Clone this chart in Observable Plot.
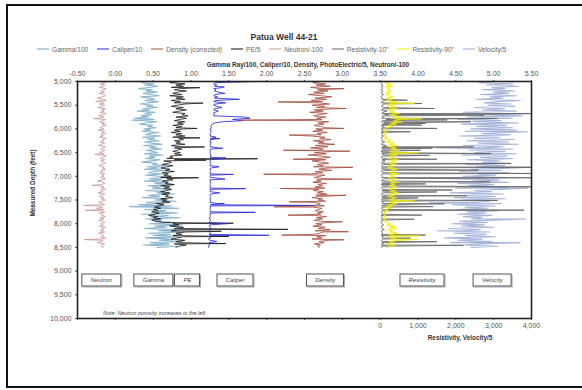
<!DOCTYPE html>
<html><head><meta charset="utf-8">
<script src="https://cdn.jsdelivr.net/npm/d3@7"></script>
<script src="https://cdn.jsdelivr.net/npm/@observablehq/plot@0.6"></script>
<style>
html,body{margin:0;padding:0;background:#fff;width:582px;height:390px;overflow:hidden;font-family:"Liberation Sans",Arial,sans-serif;position:relative;}
#frame{position:absolute;left:6px;top:4px;width:720px;height:384px;border:2px solid #111;box-sizing:border-box;}
#chart{position:absolute;left:0;top:0;}
.t{position:absolute;white-space:nowrap;color:#333;}
#title{left:284px;top:37px;transform:translate(-50%,-50%);font-weight:bold;font-size:8.5px;}
#legend{position:absolute;left:37px;top:49px;transform:translateY(-50%);display:flex;gap:9px;font-size:6.6px;color:#666;white-space:nowrap;}
#legend .it{display:flex;align-items:center;}
#legend .ln{display:inline-block;width:12px;height:0;border-top:1px solid;margin-right:3px;}
#xtop{left:308px;top:64px;transform:translate(-50%,-50%);font-weight:bold;font-size:6.4px;}
#xbot{left:460px;top:337px;transform:translate(-50%,-50%);font-weight:bold;font-size:6.4px;}
#ylab{left:32px;top:183px;transform:translate(-50%,-50%) rotate(-90deg);font-weight:bold;font-size:6.4px;}
#note{left:103px;top:313px;transform:translateY(-50%);font-style:italic;font-size:5.4px;color:#444;}
.box{position:absolute;border:1px solid #555;box-shadow:1px 1px 0 #aaa;font-style:italic;font-size:6px;color:#444;height:11px;line-height:11px;padding:0 8px;transform:translate(-50%,-50%);white-space:nowrap;background:#fff;}
</style></head><body>
<div id="frame"></div>
<div id="chart"></div>
<div class="t" id="title">Patua Well 44-21</div>
<div id="legend"></div>
<div class="t" id="xtop">Gamma Ray/100, Caliper/10, Density, PhotoElectric/5, Neutron/-100</div>
<div class="t" id="xbot">Resistivity, Velocity/5</div>
<div class="t" id="ylab">Measured Depth (feet)</div>
<div class="t" id="note">Note: Neutron porosity increases to the left</div>
<script>
// ---------- data ----------
const depth = [
5000,5025,5050,5075,5100,5125,5150,5175,5200,5225,
5250,5275,5300,5325,5350,5375,5400,5425,5450,5475,
5500,5525,5550,5575,5600,5625,5650,5675,5700,5725,
5750,5775,5800,5825,5850,5875,5900,5925,5950,5975,
6000,6025,6050,6075,6100,6125,6150,6175,6200,6225,
6250,6275,6300,6325,6350,6375,6400,6425,6450,6475,
6500,6525,6550,6575,6600,6625,6650,6675,6700,6725,
6750,6775,6800,6825,6850,6875,6900,6925,6950,6975,
7000,7025,7050,7075,7100,7125,7150,7175,7200,7225,
7250,7275,7300,7325,7350,7375,7400,7425,7450,7475,
7500,7525,7550,7575,7600,7625,7650,7675,7700,7725,
7750,7775,7800,7825,7850,7875,7900,7925,7950,7975,
8000,8025,8050,8075,8100,8125,8150,8175,8200,8225,
8250,8275,8300,8325,8350,8375,8400,8425,8450,8475,
8500];

// Neutron porosity (%), plotted as Neutron/-100
const neutron = [
18,13,20,14,17,21,12,16,19,14,
22,15,13,18,24,16,12,19,15,21,
14,17,23,13,18,15,20,12,17,22,
15,19,13,16,21,14,18,12,17,20,
15,23,14,18,13,19,16,21,12,17,
15,20,14,18,22,13,17,19,14,16,
21,15,18,12,17,20,14,19,16,13,
18,22,15,17,13,19,16,21,14,18,
15,20,13,17,24,16,14,19,22,15,
18,13,20,16,23,14,17,21,15,19,
13,18,22,16,14,20,17,25,15,19,
14,21,16,18,13,20,15,22,17,14,
19,16,21,13,18,15,20,14,22,17,
15,19,13,21,16,18,24,14,17,19,
16];
const neutronSpikes = [[5420,26],[5780,29],[6540,27],[7190,31],[7615,42],[7720,40],[8335,41]];

// Gamma ray (API), plotted as Gamma/100
const gamma = [
42,35,51,38,56,44,31,49,40,55,
37,47,58,34,45,52,39,57,43,33,
50,41,56,36,46,29,53,39,48,34,
44,25,51,37,55,40,32,49,43,54,
38,47,35,57,45,40,60,36,52,43,
58,39,48,62,37,54,46,61,41,50,
56,38,63,45,52,40,59,47,35,55,
49,66,42,58,38,70,51,44,63,40,
57,72,45,61,38,68,52,76,43,60,
49,74,40,65,55,78,44,59,36,70,
52,80,41,63,30,75,48,84,39,66,
55,82,35,70,47,86,40,61,53,78,
45,88,52,68,38,80,57,90,44,73,
50,85,40,76,58,89,46,71,37,82,
55];
const gammaSpikes = [[5815,22],[7640,19]];

// Photoelectric factor (b/e), plotted as PE/5
const pe = [
4.2,3.6,4.6,4.0,4.5,3.7,4.3,3.9,4.7,4.1,
3.8,4.4,3.6,4.5,4.0,4.6,3.7,4.3,3.9,4.6,
4.1,3.7,4.5,4.0,4.7,4.2,3.8,4.6,4.4,4.8,
4.0,4.7,4.3,3.9,4.6,4.1,4.5,3.8,4.4,4.0,
4.5,3.9,4.3,3.7,4.4,4.0,4.6,3.8,4.2,4.5,
3.9,4.3,4.0,4.6,3.7,4.2,3.9,4.4,4.1,3.8,
4.3,3.9,4.4,3.6,3.8,3.4,3.9,3.2,3.7,3.5,
3.1,3.8,3.4,3.0,3.6,3.3,3.9,3.1,3.5,3.2,
3.7,3.0,3.4,3.8,3.1,3.5,3.3,3.9,3.0,3.6,
3.2,3.7,3.4,3.0,3.6,3.1,3.5,3.3,3.8,3.0,
3.4,3.1,3.6,2.7,3.2,2.9,2.6,3.0,2.5,2.8,
2.4,2.9,2.6,2.2,2.8,2.5,3.0,2.4,2.7,3.2,
3.8,4.2,3.6,4.5,3.9,4.3,3.7,4.6,4.0,4.4,
3.8,4.5,4.1,3.7,4.6,4.0,4.3,3.9,4.7,4.2,
4.0];
const peSpikes = [[5130,5.6],[5455,5.8],[5990,5.4],[6190,5.6],[6380,5.9],[6630,9.4],[6660,6.0],[7030,5.5],[7990,7.8],[8120,11.4],[8160,7.0],[8270,7.5],[8420,7.3]];

// Caliper (in), plotted as Caliper/10
const caliper = [
18.6,13.2,13.0,13.4,13.1,14.3,13.0,13.3,13.1,13.6,
14.5,13.2,13.0,13.5,13.1,16.4,13.3,13.0,14.6,13.2,
13.0,13.4,14.1,13.1,13.0,13.6,13.2,12.9,13.1,13.0,
17.2,17.8,15.5,16.9,14.2,13.1,12.8,12.7,12.6,12.7,
12.6,12.5,12.7,12.6,12.5,12.6,12.5,13.3,12.6,12.5,
12.6,12.5,12.7,12.5,12.6,12.5,13.6,12.6,12.5,12.6,
12.5,12.6,12.5,12.7,12.5,14.0,12.6,12.5,12.6,12.5,
12.6,12.5,13.7,12.6,12.5,12.6,12.5,12.6,12.5,12.6,
12.5,12.6,14.2,12.5,12.6,12.5,12.6,12.5,12.6,12.5,
12.6,12.5,12.6,12.5,13.8,12.6,12.5,12.6,12.5,12.6,
12.5,12.6,12.5,13.5,12.6,12.5,12.6,12.5,12.6,12.5,
12.6,12.5,12.6,12.5,12.6,12.4,12.5,12.6,12.5,12.4,
14.8,12.5,12.4,12.6,12.5,12.4,12.5,12.4,12.6,12.4,
12.5,12.4,12.6,12.3,12.5,13.4,12.4,12.3,12.5,12.3,
12.3];
const caliperSpikes = [[5115,14.4],[6205,13.8],[6410,14.2],[6610,14.6],[6960,15.6],[7060,14.5],[7260,17.2],[7575,14.4],[7615,26.5],[7760,18.5],[8245,20.3]];

// Bulk density, corrected (g/cc)
const density = [
2.70,2.61,2.78,2.65,2.84,2.58,2.73,2.67,2.81,2.62,
2.76,2.55,2.72,2.86,2.64,2.79,2.59,2.74,2.68,2.83,
2.60,2.77,2.66,2.88,2.63,2.75,2.57,2.80,2.69,2.62,
2.78,2.66,2.73,2.60,2.82,2.68,2.76,2.63,2.71,2.79,
2.65,2.74,2.61,2.80,2.67,2.72,2.59,2.77,2.70,2.85,
2.62,2.76,2.68,2.90,2.64,2.81,2.58,2.75,2.69,2.87,
2.63,2.79,2.55,2.73,2.84,2.66,2.78,2.60,2.71,2.82,
2.67,2.75,2.62,2.80,2.69,2.86,2.64,2.74,2.59,2.77,
2.70,2.63,2.76,2.66,2.72,2.61,2.79,2.68,2.74,2.64,
2.77,2.69,2.62,2.75,2.67,2.80,2.65,2.72,2.60,2.74,
2.68,2.78,2.63,2.71,2.66,2.76,2.61,2.73,2.69,2.64,
2.75,2.67,2.72,2.62,2.79,2.66,2.74,2.63,2.71,2.80,
2.65,2.73,2.61,2.77,2.68,2.84,2.64,2.75,2.70,2.62,
2.78,2.66,2.73,2.60,2.81,2.69,2.76,2.63,2.71,2.67,
2.70];
const densitySpikes = [[5150,3.02],[5430,2.15],[5570,3.05],[5815,1.65],[5990,3.02],[6130,2.30],[6450,2.22],[6470,3.10],[6640,2.35],[6810,3.14],[6955,1.96],[7060,3.13],[7257,2.18],[7400,3.05],[7540,2.30],[7644,2.10],[7820,2.28],[7960,3.00],[8170,3.08],[8240,2.20],[8340,3.02]];

// Resistivity 10" (ohm-m)
const res10 = [
40,25,60,30,80,35,55,20,70,45,
30,90,40,25,65,35,110,45,30,75,
50,35,140,60,40,180,70,45,120,55,
90,40,150,65,35,100,50,30,85,45,
30,70,40,25,60,35,90,45,30,55,
40,120,50,30,160,60,35,80,45,25,
70,40,110,50,30,90,45,130,55,35,
80,40,60,30,100,45,35,75,50,30,
65,40,140,55,35,90,45,30,110,50,
35,80,45,120,60,30,95,40,70,35,
55,30,85,45,130,40,60,30,90,50,
35,70,40,25,60,35,50,30,45,25,
40,90,30,60,35,110,45,30,70,40,
30,80,45,100,35,60,40,90,30,50,
35];
const res10Spikes = [[5395,720],[5465,1100],[5570,1430],[5675,3980],[5690,2780],[5710,2750],[5780,3100],[5810,1770],[5850,2400],[5885,1200],[5920,1100],[5990,1500],[6060,800],[6380,2470],[6405,1380],[6450,1070],[6520,2930],[6560,1300],[6640,1500],[6730,3460],[6810,3980],[6870,2600],[6940,3980],[7030,3980],[7045,1700],[7117,2900],[7160,1200],[7222,3980],[7290,1900],[7330,1500],[7410,2300],[7455,1000],[7510,3100],[7580,1700],[7640,1400],[7715,3800],[7820,1100],[7905,900],[8240,1200],[8305,800],[8380,1500],[8455,2200]];

// Resistivity 90" (ohm-m)
const res90 = [
200,140,280,180,340,150,240,210,300,170,
260,140,220,360,180,290,160,420,230,320,
190,380,250,450,220,340,280,500,240,420,
540,300,480,360,580,260,430,210,340,160,
130,200,100,170,90,150,120,190,100,220,
280,160,370,240,460,210,420,300,510,250,
390,220,450,260,350,200,480,290,380,220,
420,250,340,190,460,280,380,230,490,260,
360,210,430,300,240,500,280,380,220,450,
320,230,420,270,480,250,370,200,420,300,
220,380,260,450,210,340,150,280,120,190,
100,160,90,140,110,180,100,140,120,210,
270,170,380,240,440,210,340,260,470,220,
370,190,420,280,490,230,350,180,400,250,
220];
const res90Spikes = [[5460,900],[5790,1100],[6505,1000],[7520,900],[8255,1050],[8330,980]];

// Sonic velocity (ft/s), plotted as Velocity/5
const velocity = [
15250,13000,17500,14000,18250,14750,16500,13500,17750,15000,
17000,13250,18000,14500,16250,12750,18500,15500,13750,17250,
14250,17750,12500,16500,13500,18000,11000,17000,13000,18750,
11500,17500,10250,16000,12250,18250,10750,16750,12750,17500,
12000,18000,11250,16500,13500,17250,10500,15750,12500,17750,
11500,17000,13000,18250,11000,16250,13750,17500,11750,16500,
12500,18000,10750,16750,13250,17500,11500,15750,13500,17250,
11250,16500,12750,18000,12000,16000,10500,17000,13000,15250,
11000,16500,9500,15750,12250,17000,10250,15000,11750,16750,
10000,16000,12500,14750,9250,16250,11500,15250,9750,16500,
10750,14500,12000,16000,9500,15250,11250,14250,10000,15750,
11500,14000,10250,14750,11000,13500,12000,15000,10500,14250,
9500,13750,10750,15000,9000,13250,11500,14500,9750,14000,
11250,15250,8500,13500,10250,14750,9250,13000,11000,15500,
12000];
const velocitySpikes = [[5680,19750],[6060,19500],[6400,7500],[6810,19750],[7040,7000],[7250,19500],[7560,6500],[7900,19250],[8150,7500],[8400,18500]];

const topTicks = [-0.5,0,0.5,1,1.5,2,2.5,3,3.5,4,4.5,5,5.5];
const depthTicks = [5000,5500,6000,6500,7000,7500,8000,8500,9000,9500,10000];

// ---------- chart ----------
// secondary (bottom) axis: 0..4000 maps onto 3.5..5.5 of the shared x scale
const resToX = r => 3.5 + r / 2000;
const xToRes = x => (x - 3.5) * 2000;

function build(values, spikes, f) {
  const pts = depth.map((d, i) => ({d, v: f(values[i])}));
  for (const [d, val] of spikes) pts.push({d, v: f(val)});
  return pts.sort((a, b) => a.d - b.d);
}

const series = [
  {name: "Neutron/-100", color: "#c99a9a", w: 1.0, data: build(neutron, neutronSpikes, n => n / -100)},
  {name: "Gamma/100", color: "#74a9c4", w: 1.1, data: build(gamma, gammaSpikes, g => g / 100)},
  {name: "PE/5", color: "#111111", w: 0.9, data: build(pe, peSpikes, p => p / 5)},
  {name: "Caliper/10", color: "#2b2bd9", w: 1.0, data: build(caliper, caliperSpikes, c => c / 10)},
  {name: "Density (corrected)", color: "#a5503f", w: 1.0, data: build(density, densitySpikes, r => r)},
  {name: "Velocity/5", color: "#9aa9d6", w: 1.1, data: build(velocity, velocitySpikes, v => resToX(v / 5))},
  {name: "Resistivity-10\"", color: "#666666", w: 1.0, data: build(res10, res10Spikes, resToX)},
  {name: "Resistivity-90\"", color: "#f0f000", w: 1.2, data: build(res90, res90Spikes, resToX)}
];
const legendOrder = ["Gamma/100","Caliper/10","Density (corrected)","PE/5","Neutron/-100","Resistivity-10\"","Resistivity-90\"","Velocity/5"];

const chart = Plot.plot({
  width: 582, height: 390,
  marginLeft: 77, marginRight: 51, marginTop: 81, marginBottom: 72,
  style: {fontFamily: "Liberation Sans, Arial, sans-serif", fontSize: "7px", color: "#555", background: "transparent"},
  x: {domain: [-0.5, 5.5]},
  y: {domain: [5000, 10000], reverse: true},
  marks: [
    Plot.axisX({anchor: "top", ticks: topTicks, tickFormat: t => t.toFixed(2), tickSize: 2, tickPadding: 4, label: null}),
    Plot.axisX({anchor: "bottom", ticks: topTicks, tickFormat: t => t >= 3.5 ? d3.format(",")(Math.round(xToRes(t))) : "", tickSize: 2, tickPadding: 3, label: null}),
    Plot.axisY({ticks: depthTicks, tickFormat: d3.format(","), tickSize: 2, tickPadding: 4, label: null}),
    ...series.map(s => Plot.line(s.data, {x: "v", y: "d", stroke: s.color, strokeWidth: s.w, strokeOpacity: 0.85})),
    Plot.frame({stroke: "#222", strokeWidth: 1.6})
  ]
});
document.getElementById("chart").append(chart);

// legend
const lg = document.getElementById("legend");
for (const name of legendOrder) {
  const s = series.find(q => q.name === name);
  const it = document.createElement("span"); it.className = "it";
  const ln = document.createElement("span"); ln.className = "ln"; ln.style.borderTopColor = s.color;
  it.append(ln, document.createTextNode(name));
  lg.append(it);
}

// boxed track labels, positioned with the chart's scales
const sx = chart.scale("x"), sy = chart.scale("y");
const boxes = [["Neutron",-0.18],["Gamma",0.51],["PE",0.96],["Caliper",1.59],["Density",2.78],["Resistivity",4.06],["Velocity",4.99]];
for (const [label, xv] of boxes) {
  const b = document.createElement("div");
  b.className = "box"; b.textContent = label;
  b.style.left = sx.apply(xv) + "px";
  b.style.top = sy.apply(9200) + "px";
  document.body.append(b);
}
</script>
</body></html>
